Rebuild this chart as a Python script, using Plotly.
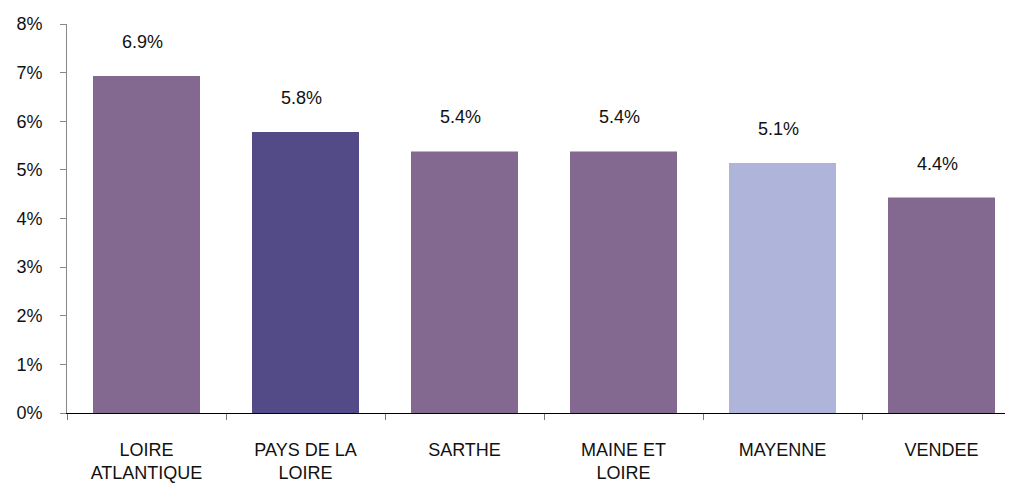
import plotly.graph_objects as go

categories = ["LOIRE<br>ATLANTIQUE", "PAYS DE LA<br>LOIRE", "SARTHE", "MAINE ET<br>LOIRE", "MAYENNE", "VENDEE"]
values = [0.0693, 0.0578, 0.0538, 0.0538, 0.0514, 0.0443]
colors = ["#83688F", "#534B87", "#83688F", "#83688F", "#AFB5DA", "#83688F"]

font_family = "Liberation Sans, Arial, sans-serif"

fig = go.Figure()
fig.add_trace(go.Bar(
    x=categories, y=values, marker=dict(color=colors, line=dict(width=0)),
    width=0.673, hoverinfo="skip",
))

for c, v in zip(categories, values):
    fig.add_annotation(x=c, y=v, text=f"{v*100:.1f}%", showarrow=False,
                       yanchor="middle", yshift=34, xshift=-4,
                       font=dict(family=font_family, size=18, color="#111"))

# page body has an 8px margin, so margins are compensated
fig.update_layout(
    width=1013, height=483,
    margin=dict(l=59, r=0, t=16, b=78),
    paper_bgcolor="white", plot_bgcolor="white",
    showlegend=False,
    font=dict(family=font_family, size=18, color="#111"),
)
fig.update_xaxes(
    type="category", tickson="boundaries", ticks="outside", ticklen=6,
    tickcolor="#777", showline=True, linecolor="#000", linewidth=1,
    showgrid=False, ticklabelstandoff=20,
    tickfont=dict(family=font_family, size=18, color="#111"),
)
fig.update_yaxes(
    range=[0, 0.08], dtick=0.01, tickformat=".0%", ticks="outside", ticklen=6,
    tickcolor="#888", showline=True, linecolor="#888", linewidth=1,
    showgrid=False, zeroline=False, ticklabelstandoff=14,
    tickfont=dict(family=font_family, size=18, color="#111"),
)

fig.write_html("out.html")
